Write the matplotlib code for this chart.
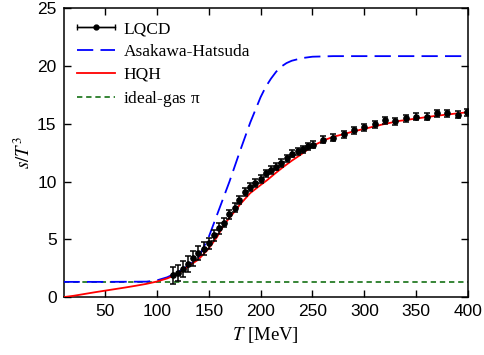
import numpy as np
import matplotlib
matplotlib.use('Agg')
import matplotlib.pyplot as plt
from matplotlib.legend_handler import HandlerErrorbar

plt.rcParams['font.family'] = 'Liberation Serif'
plt.rcParams['mathtext.fontset'] = 'stix'

# lattice QCD points
T_lqcd = [116, 120, 125, 130, 135, 140, 145.5, 150.5, 155.5, 160, 165, 170, 175, 179.5,
          185, 190, 195, 200, 205, 210, 215, 220, 225.5, 230.5, 236, 241, 246, 251,
          260, 270, 280, 290, 300, 310, 320, 330, 340, 350, 360, 370, 380, 390, 399]
s_lqcd = [1.9, 2.1, 2.4, 2.85, 3.35, 3.8, 4.2, 4.65, 5.35, 5.95, 6.45, 7.15, 7.75, 8.4,
          9.1, 9.5, 9.85, 10.2, 10.7, 11.0, 11.3, 11.6, 12.0, 12.4, 12.6, 12.8, 13.05, 13.2,
          13.6, 13.8, 14.1, 14.45, 14.68, 14.95, 15.3, 15.2, 15.46, 15.6, 15.6, 15.89, 15.89, 15.8, 16.0]
err_lqcd = [0.75, 0.72, 0.7, 0.68, 0.65, 0.6, 0.55, 0.5, 0.48, 0.45, 0.42, 0.4, 0.38, 0.36,
            0.35, 0.35, 0.34, 0.33, 0.33, 0.32, 0.32, 0.31, 0.31, 0.3, 0.3, 0.3, 0.3, 0.3,
            0.3, 0.3, 0.3, 0.3, 0.3, 0.3, 0.3, 0.3, 0.3, 0.3, 0.3, 0.3, 0.3, 0.3, 0.3]

# Asakawa-Hatsuda
T_ah = [10, 50, 90, 100, 110, 120, 130, 140, 150, 160, 170, 180, 190, 200, 205, 210, 215,
        220, 225, 230, 240, 250, 270, 400]
s_ah = [1.32, 1.32, 1.34, 1.45, 1.72, 2.15, 2.7, 3.4, 5.2, 7.6, 10.0, 12.6, 15.1, 17.3, 18.2,
        18.9, 19.5, 19.95, 20.25, 20.45, 20.68, 20.8, 20.85, 20.85]

# HQH
T_hqh = [10, 20, 30, 40, 50, 60, 70, 80, 90, 100, 110, 120, 125, 130, 140, 150, 158, 165,
         174, 180, 190, 200, 206, 214, 222, 230, 238, 246, 254, 262, 270, 280, 290, 302,
         318, 334, 350, 366, 382, 400]
s_hqh = [0.0, 0.12, 0.27, 0.42, 0.56, 0.70, 0.84, 0.99, 1.15, 1.35, 1.62, 2.0, 2.3, 2.65,
         3.25, 4.2, 5.2, 6.3, 7.3, 8.0, 9.0, 9.7, 10.1, 10.7, 11.27, 11.8, 12.28, 12.8, 13.25,
         13.6, 13.87, 14.1, 14.35, 14.6, 14.95, 15.25, 15.45, 15.65, 15.82, 16.0]

# ideal pion gas
T_gas = [10, 400]
s_gas = [1.32, 1.32]

fig = plt.figure(figsize=(4.85, 3.55), dpi=100)
ax = fig.add_axes([0.131, 0.163, 0.834, 0.814])

eb = ax.errorbar(T_lqcd, s_lqcd, yerr=err_lqcd, fmt='o', color='k', ms=3.8,
                 capsize=2.2, elinewidth=1.1, capthick=1.1, zorder=4)
ax.plot(T_ah, s_ah, color='#0000ff', lw=1.3, dashes=(9, 4), zorder=3)
ax.plot(T_hqh, s_hqh, color='#ff0000', lw=1.3, zorder=3)
ax.plot(T_gas, s_gas, color='#006400', lw=1.1, dashes=(3.5, 2.5), zorder=2)

# legend proxies
lq = ax.errorbar([np.nan], [np.nan], xerr=[1], fmt='o-', color='k', ms=3.5, lw=1.0,
                 capsize=2.5, label='LQCD')
l1, = ax.plot([], [], color='#0000ff', lw=1.3, dashes=(9, 4), label='Asakawa-Hatsuda')
l2, = ax.plot([], [], color='#ff0000', lw=1.3, label='HQH')
l3, = ax.plot([], [], color='#006400', lw=1.1, dashes=(3.5, 2.5), label=r'ideal-gas $\mathregular{\pi}$')
ax.legend(handles=[lq, l1, l2, l3], loc='upper left', frameon=False, fontsize=12.5,
          handlelength=2.2, labelspacing=0.38, borderaxespad=0.35, handletextpad=0.5,
          handler_map={type(lq): HandlerErrorbar(xerr_size=1.1)})

ax.set_xlim(10, 400)
ax.set_ylim(0, 25)
ax.set_xticks(range(50, 401, 50))
ax.set_yticks(range(0, 26, 5))
ax.tick_params(direction='in', top=True, right=True, length=5, width=1, labelsize=12.5, pad=5)
for lab in ax.get_xticklabels() + ax.get_yticklabels():
    lab.set_fontfamily('Liberation Sans')
for sp in ax.spines.values():
    sp.set_linewidth(1.1)

ax.set_xlabel(r'$T$ [MeV]', fontsize=13.5, labelpad=4)
ax.set_ylabel(r'$s/T^3$', fontsize=13.5, labelpad=2)

fig.savefig('out.png', dpi=100)
